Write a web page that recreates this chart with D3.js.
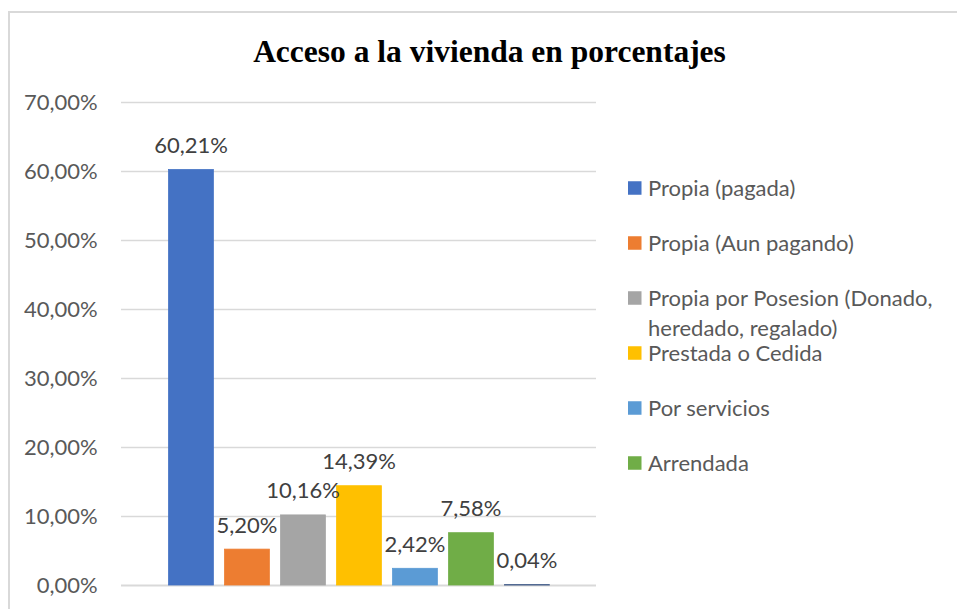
<!DOCTYPE html>
<html>
<head>
<meta charset="utf-8">
<script src="https://cdn.jsdelivr.net/npm/d3@7"></script>
<style>
  html, body { margin: 0; padding: 0; background: #ffffff; }
  svg { display: block; }
</style>
</head>
<body>
<svg id="chart" width="957" height="609"></svg>
<script>
// Tipos de acceso a la vivienda (una serie por tipo)
const categories = [
  "Propia (pagada)",
  "Propia (Aun pagando)",
  "Propia por Posesion (Donado, heredado, regalado)",
  "Prestada o Cedida",
  "Por servicios",
  "Arrendada",
  "Otra"
];
const values = [0.6021, 0.0520, 0.1016, 0.1439, 0.0242, 0.0758, 0.0004];
const colors = ["#4472C4", "#ED7D31", "#A5A5A5", "#FFC000", "#5B9BD5", "#70AD47", "#264478"];
const yTicks = [0, 0.1, 0.2, 0.3, 0.4, 0.5, 0.6, 0.7];
const legendEntries = categories.slice(0, 6);
const title = "Acceso a la vivienda en porcentajes";

const esLocale = d3.formatLocale({ decimal: ",", thousands: ".", grouping: [3], currency: ["", " €"] });
const pct = esLocale.format(".2%");

const svg = d3.select("#chart");
const labelFont = "Lato, 'Open Sans', sans-serif";
const labelSize = 22;

// Marco del gráfico
svg.append("rect")
  .attr("x", 9).attr("y", 12)
  .attr("width", 980).attr("height", 640)
  .attr("fill", "#ffffff")
  .attr("stroke", "#d9d9d9")
  .attr("stroke-width", 2);

// Título
svg.append("text")
  .attr("x", 489.5).attr("y", 62)
  .attr("text-anchor", "middle")
  .attr("font-family", "'Liberation Serif', 'Times New Roman', serif")
  .attr("font-weight", "bold")
  .attr("font-size", 31.5)
  .attr("fill", "#000000")
  .text(title);

// Área de trazado
const plot = { left: 121, right: 596, top: 102, bottom: 585 };

const y = d3.scaleLinear().domain([0, 0.7]).range([plot.bottom, plot.top]);
const x = d3.scaleBand()
  .domain(categories)
  .range([plot.left, plot.right])
  .paddingInner(0.2)
  .paddingOuter(0.841)
  .align(0.505);

// Eje vertical con líneas de cuadrícula
const yAxis = d3.axisLeft(y)
  .tickValues(yTicks)
  .tickFormat(pct)
  .tickSizeInner(-(plot.right - plot.left))
  .tickSizeOuter(0)
  .tickPadding(23.3);

const gy = svg.append("g")
  .attr("transform", `translate(${plot.left},0)`)
  .call(yAxis);
gy.select(".domain").remove();
gy.selectAll(".tick line")
  .attr("stroke", "#d9d9d9")
  .attr("stroke-width", d => d === 0 ? 2 : 1.4);
gy.selectAll(".tick text")
  .attr("font-family", labelFont)
  .attr("font-size", labelSize)
  .attr("fill", "#595959");

// Barras
svg.append("g")
  .selectAll("rect")
  .data(values)
  .join("rect")
  .attr("x", (d, i) => x(categories[i]))
  .attr("width", x.bandwidth())
  .attr("y", d => y(d))
  .attr("height", d => y(0) - y(d))
  .attr("fill", (d, i) => colors[i])
  .attr("stroke", (d, i) => colors[i])
  .attr("stroke-width", 0.8);

// Etiquetas de datos
svg.append("g")
  .selectAll("text")
  .data(values)
  .join("text")
  .attr("x", (d, i) => x(categories[i]) + x.bandwidth() / 2)
  .attr("y", d => y(d) - 16.5)
  .attr("text-anchor", "middle")
  .attr("font-family", labelFont)
  .attr("font-size", labelSize)
  .attr("fill", "#404040")
  .text(d => pct(d));

// Leyenda
const legend = { x: 628, textX: 648, firstY: 188, rowGap: 55, lineGap: 30, maxWidth: 305, box: 13.5 };
const lg = svg.append("g");

legendEntries.forEach((name, i) => {
  const cy = legend.firstY + i * legend.rowGap;
  lg.append("rect")
    .attr("x", legend.x)
    .attr("y", cy - legend.box / 2)
    .attr("width", legend.box)
    .attr("height", legend.box)
    .attr("fill", colors[i]);

  const t = lg.append("text")
    .attr("x", legend.textX)
    .attr("y", cy)
    .attr("font-family", labelFont)
    .attr("font-size", labelSize)
    .attr("fill", "#595959");

  // Ajuste de línea por ancho disponible
  const words = name.split(" ");
  let line = [];
  let tspan = t.append("tspan").attr("x", legend.textX).attr("dy", "0.35em");
  words.forEach(w => {
    line.push(w);
    tspan.text(line.join(" "));
    if (tspan.node().getComputedTextLength() > legend.maxWidth && line.length > 1) {
      line.pop();
      tspan.text(line.join(" "));
      line = [w];
      tspan = t.append("tspan")
        .attr("x", legend.textX)
        .attr("dy", legend.lineGap)
        .text(w);
    }
  });
});
</script>
</body>
</html>
